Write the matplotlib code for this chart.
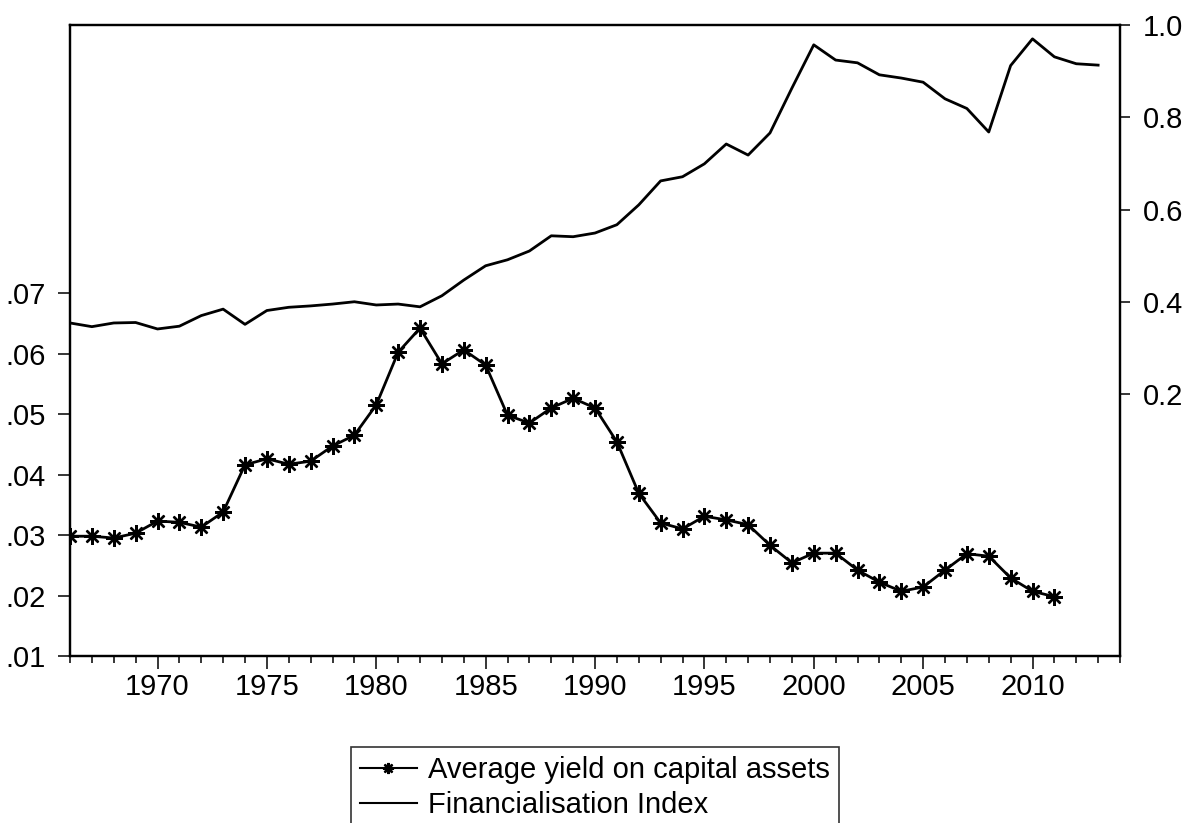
import matplotlib
matplotlib.use("Agg")
import matplotlib.pyplot as plt
import numpy as np
from matplotlib.ticker import FuncFormatter, MultipleLocator

plt.rcParams['font.family'] = ['Liberation Sans', 'DejaVu Sans']

# annual data
yield_years = np.arange(1966, 2012)
avg_yield = [0.0298, 0.0298, 0.0295, 0.0303, 0.0323, 0.0321, 0.0313, 0.0338, 0.0416, 0.0426,
             0.0417, 0.0422, 0.0447, 0.0465, 0.0515, 0.0602, 0.0642, 0.0583, 0.0606, 0.0581,
             0.0498, 0.0485, 0.0510, 0.0526, 0.0510, 0.0454, 0.0369, 0.0320, 0.0310, 0.0331,
             0.0325, 0.0317, 0.0283, 0.0254, 0.0270, 0.0270, 0.0242, 0.0222, 0.0207, 0.0214,
             0.0242, 0.0269, 0.0265, 0.0229, 0.0207, 0.0198]

fin_years = np.arange(1966, 2014)
fin_index = [0.354, 0.346, 0.354, 0.355, 0.341, 0.347, 0.370, 0.384, 0.351, 0.381,
             0.388, 0.391, 0.395, 0.400, 0.393, 0.395, 0.389, 0.413, 0.447, 0.478,
             0.491, 0.510, 0.543, 0.541, 0.549, 0.567, 0.610, 0.662, 0.671, 0.699,
             0.742, 0.718, 0.766, 0.863, 0.957, 0.924, 0.918, 0.892, 0.885, 0.876,
             0.840, 0.819, 0.768, 0.912, 0.970, 0.931, 0.916, 0.913]

left_ticks = [0.01, 0.02, 0.03, 0.04, 0.05, 0.06, 0.07]
right_ticks = [0.2, 0.4, 0.6, 0.8, 1.0]

W, H = 1185, 823
fs = 21
fig = plt.figure(figsize=(W / 100, H / 100), dpi=100)
ax = fig.add_axes([70 / W, (H - 656) / H, (1120 - 70) / W, (656 - 25) / H])
ax2 = ax.twinx()

l1, = ax.plot(yield_years, avg_yield, color='black', lw=2,
              marker=(8, 2, 0), markersize=12, markeredgewidth=1.7)
l2, = ax2.plot(fin_years, fin_index, color='black', lw=2)

ax.set_xlim(1966, 2014)
ax.set_ylim(0.01, 0.1143)
ax2.set_ylim(-0.368, 1.0)

ax.set_yticks(left_ticks)
ax.yaxis.set_major_formatter(FuncFormatter(lambda v, p: f"{v:.2f}".lstrip('0')))
ax2.set_yticks(right_ticks)
ax2.yaxis.set_major_formatter(FuncFormatter(lambda v, p: f"{v:.1f}"))

ax.xaxis.set_major_locator(MultipleLocator(5))
ax.xaxis.set_minor_locator(MultipleLocator(1))
ax.set_xticks(range(1970, 2015, 5))

for a in (ax, ax2):
    for s in a.spines.values():
        s.set_linewidth(1.6)
ax.tick_params(axis='x', which='major', length=9.4, width=1.1, direction='out', labelsize=fs, pad=3)
ax.tick_params(axis='x', which='minor', length=5, width=1.1, direction='out')
ax.tick_params(axis='y', length=8.6, width=1.1, direction='out', labelsize=fs, pad=9)
ax2.tick_params(axis='y', length=7.2, width=1.1, direction='out', labelsize=fs, pad=9)

leg = fig.legend([l1, l2], ['Average yield on capital assets', 'Financialisation Index'],
                 loc='upper center', bbox_to_anchor=(0.502, (H - 747) / H), fontsize=fs,
                 frameon=True, fancybox=False, edgecolor='black', handlelength=1.95,
                 handletextpad=0.4, borderpad=0.3, labelspacing=0.25, borderaxespad=0)
leg.get_frame().set_linewidth(1.2)
for h in leg.legend_handles:
    h.set_markersize(8)
    h.set_linewidth(1.5)

fig.savefig('out.png', dpi=100)
